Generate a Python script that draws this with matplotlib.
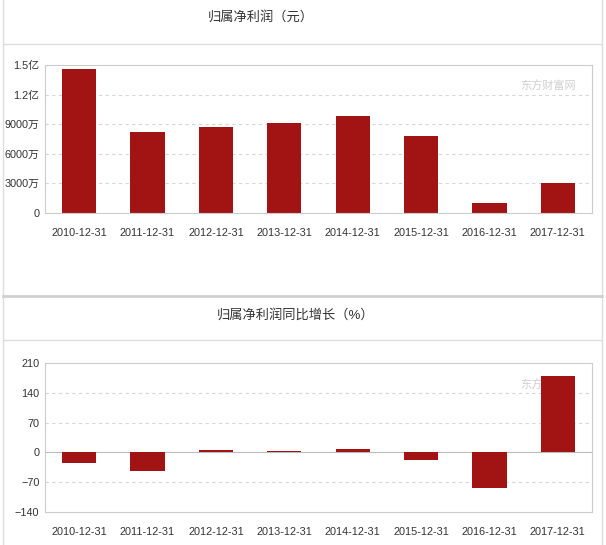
import numpy as np
import matplotlib
matplotlib.use('Agg')
import matplotlib.pyplot as plt
from matplotlib.ticker import FuncFormatter
from matplotlib.lines import Line2D

plt.rcParams['font.family'] = ['Liberation Sans', 'Noto Sans CJK SC', 'DejaVu Sans']

dates = ['2010-12-31', '2011-12-31', '2012-12-31', '2013-12-31',
         '2014-12-31', '2015-12-31', '2016-12-31', '2017-12-31']
# 归属净利润, yuan
profit = [146.0e6, 82.4e6, 86.8e6, 90.9e6, 98.0e6, 78.0e6, 10.3e6, 30.1e6]
# 同比增长, %
growth = [-26, -43, 5.4, 3, 7.8, -19, -85, 179]
profit_ticks = [0, 3e7, 6e7, 9e7, 1.2e8, 1.5e8]
growth_ticks = [-140, -70, 0, 70, 140, 210]

bar_c = '#a21414'
grid_c = '#d6d6d6'
frame_c = '#cccccc'
txt_c = '#333333'

fig = plt.figure(figsize=(6.06, 5.45), dpi=100)
W, H = 606, 545

def fx(x):
    return x / W

def fy(y):
    return 1 - y / H

# panel borders
def hline(y, x0=3, x1=602, c='#dddddd', lw=1):
    fig.add_artist(Line2D([fx(x0), fx(x1)], [fy(y), fy(y)], color=c, lw=lw))

def vline(x, y0, y1, c='#dddddd', lw=1):
    fig.add_artist(Line2D([fx(x), fx(x)], [fy(y0), fy(y1)], color=c, lw=lw))

vline(3, 0, 295); vline(602, 0, 295)
vline(3, 297, 545); vline(602, 297, 545)
hline(44)
hline(295.5, c='#d0d0d0', lw=2)
hline(340)

fig.text(fx(208), fy(17), '归属净利润（元）', fontsize=9.5, color=txt_c, va='center', ha='left')
fig.text(fx(217), fy(315), '归属净利润同比增长（%）', fontsize=9.5, color=txt_c, va='center', ha='left')


def style(ax, ticks):
    ax.set_yticks(ticks)
    ax.set_ylim(ticks[0], ticks[-1])
    ax.set_xlim(-0.5, len(dates) - 0.5)
    ax.set_xticks(range(len(dates)))
    ax.set_xticklabels(dates)
    for s in ax.spines.values():
        s.set_color(frame_c)
        s.set_linewidth(0.8)
    ax.tick_params(length=0, labelsize=7.8, colors=txt_c)
    ax.tick_params(axis='x', pad=11)
    ax.tick_params(axis='y', pad=4)
    for t in ticks[1:-1]:
        if t != 0:
            ax.axhline(t, color=grid_c, lw=0.8, ls=(0, (3, 3)), zorder=0)


def fmt_profit(v, pos):
    if v == 0:
        return '0'
    if v >= 1e8:
        return '%.1f亿' % (v / 1e8)
    return '%d万' % round(v / 1e4)


ax1 = fig.add_axes([fx(45), fy(213), fx(547), 148 / H])
ax1.bar(range(len(dates)), profit, width=0.5, color=bar_c, zorder=2)
style(ax1, profit_ticks)
ax1.yaxis.set_major_formatter(FuncFormatter(fmt_profit))
ax1.text(0.97, 0.86, '东方财富网', transform=ax1.transAxes, ha='right', va='center',
         fontsize=8, color='#d0d0d0', zorder=1)

ax2 = fig.add_axes([fx(45), fy(511.7), fx(547), 148.4 / H])
ax2.bar(range(len(dates)), growth, width=0.5, color=bar_c, zorder=2)
style(ax2, growth_ticks)
ax2.axhline(0, color='#bbbbbb', lw=0.8, zorder=1)
ax2.text(0.97, 0.86, '东方财富网', transform=ax2.transAxes, ha='right', va='center',
         fontsize=8, color='#d0d0d0', zorder=1)

fig.savefig('out.png', dpi=100)
